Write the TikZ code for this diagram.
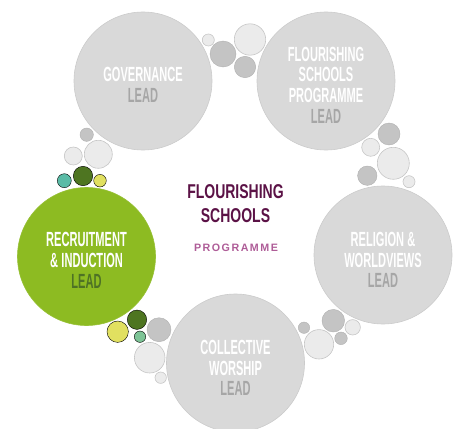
\documentclass[tikz,border=0pt]{standalone}
\usepackage{fontspec}
\setmainfont{Liberation Sans}
\newfontfamily\leadfont[FakeStretch=0.54]{Liberation Sans}
\newfontfamily\titlefont[FakeStretch=0.70]{Liberation Sans}
\newfontfamily\tagfont[LetterSpace=14]{Liberation Sans}
\usepackage{xcolor}
\usepackage{tikz}

\definecolor{leadgrey}{HTML}{D9D9D9}
\definecolor{leadrim}{HTML}{CBCBCB}
\definecolor{leadgreen}{HTML}{8DBB22}
\definecolor{greenrim}{HTML}{97C036}
\definecolor{leadword}{HTML}{A6A6A6}
\definecolor{leadwordgreen}{HTML}{4E7225}
\definecolor{bublight}{HTML}{EBEBEB}
\definecolor{bubgrey}{HTML}{C4C4C4}
\definecolor{bubrim}{HTML}{C6C6C6}
\definecolor{moss}{HTML}{4E7521}
\definecolor{lime}{HTML}{E1E060}
\definecolor{mint}{HTML}{7DC496}
\definecolor{teal}{HTML}{5ABBA6}
\definecolor{plum}{HTML}{5B1246}
\definecolor{orchid}{HTML}{AE5C97}

\begin{document}
\begin{tikzpicture}[
			x=1pt, y=-1pt,
			lead/.style={circle, minimum size=138pt, inner sep=0pt, fill=leadgrey, draw=leadrim, line width=0.6pt},
			greenlead/.style={lead, fill=leadgreen, draw=greenrim},
			leadtext/.style={align=center, text=white, inner sep=0pt,
				font=\leadfont\bfseries\fontsize{20.5}{20.7}\selectfont},
			lightbub/.style={fill=bublight, draw=bubrim, line width=0.6pt},
			greybub/.style={fill=bubgrey, draw=bubgrey!90!black, line width=0.4pt},
			limebub/.style={fill=lime},
			mossbub/.style={fill=moss},
			mintbub/.style={fill=mint},
			tealbub/.style={fill=teal}
			]
			\useasboundingbox (0,0) rectangle (460,428);
			\clip (0,0) rectangle (460,428);
			
			% =========================================================
			% centres of the five lead circles (pentagon round the title)
			% =========================================================
			\coordinate (Cg) at (143,81);
			\coordinate (Cf) at (326,81);
			\coordinate (Cr) at (86.5,256.5);
			\coordinate (Cw) at (383,255);
			\coordinate (Cc) at (235.5,363);
			\def\drop{-4pt}   % text sits a little below the circle centre
			
			% lead circles
			\node[lead]      (gov) at (Cg) {};
			\node[lead]      (fsp) at (Cf) {};
			\node[greenlead] (rec) at (Cr) {};
			\node[lead]      (rel) at (Cw) {};
			\node[lead]      (wor) at (Cc) {};
			
			% their labels
			\node[leadtext] (govtext) at ([yshift=\drop]gov.center)
				{GOVERNANCE\\\textcolor{leadword}{LEAD}};
			\node[leadtext] (fsptext) at ([yshift=\drop]fsp.center)
				{FLOURISHING\\SCHOOLS\\PROGRAMME\\\textcolor{leadword}{LEAD}};
			\node[leadtext] (rectext) at ([yshift=\drop]rec.center)
				{RECRUITMENT\\\&\,INDUCTION\\\textcolor{leadwordgreen}{LEAD}};
			\node[leadtext] (reltext) at ([yshift=-5pt]rel.center)
				{RELIGION \&\\WORLDVIEWS\\\textcolor{leadword}{LEAD}};
			\node[leadtext] (wortext) at ([yshift=-5pt]wor.center)
				{COLLECTIVE\\WORSHIP\\\textcolor{leadword}{LEAD}};
			
			% =========================================================
			% bubbles between the circles: x / y / r / style
			% =========================================================
			\foreach \bx/\by/\br/\bs in {
				208.3/40/6/lightbub, 223/54/13/greybub, 250/39.5/15.7/lightbub, 245/67/10.7/greybub,
				389/134/11/greybub, 370.7/147.3/9/lightbub, 393.3/163.3/16/lightbub,
				367.3/175.7/9.7/greybub, 409/181.7/6/lightbub,
				304/327.7/5.7/greybub, 333.3/320.7/11.3/greybub, 352.7/327.3/7.7/lightbub,
				341/338.3/6.3/greybub, 319/344.3/14.7/lightbub,
				117.7/331.7/10.7/limebub, 137/319.7/9.7/mossbub, 140/336.7/5.7/mintbub,
				159/329.7/12/greybub, 149.7/357.7/15.3/lightbub, 160.7/377.7/5.7/lightbub,
				86.7/134.7/6.7/greybub, 73.3/156/9/lightbub, 98.3/154.3/14/lightbub,
				64.3/180.7/7/tealbub, 83/176/9.7/mossbub, 100/180.7/6.3/limebub}
			\draw[\bs] (\bx,\by) circle[radius=\br];
			
			% title in the middle
			\node[align=center, inner sep=0pt, text=plum,
				font=\titlefont\bfseries\fontsize{20}{23.5}\selectfont]
				(title) at (235.5,203.8) {FLOURISHING\\SCHOOLS};
			\node[inner sep=0pt, text=orchid, font=\tagfont\bfseries\fontsize{10.7}{12}\selectfont]
				(tag) at (236,247.5) {PROGRAMME};
			
		\end{tikzpicture}
\end{document}
